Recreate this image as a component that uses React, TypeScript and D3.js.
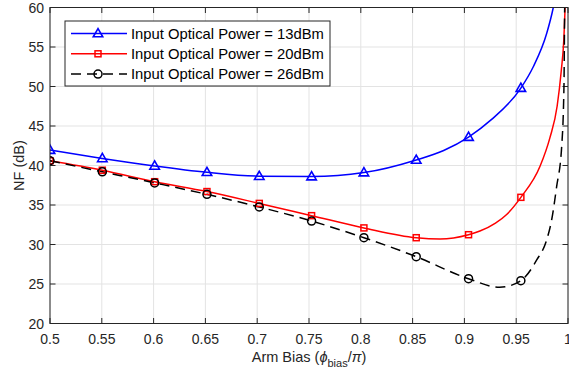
import React from "react";
import * as d3 from "d3";

// ---- data ----
const xTicks = [0.5, 0.55, 0.6, 0.65, 0.7, 0.75, 0.8, 0.85, 0.9, 0.95, 1];
const xTickLabels = ["0.5", "0.55", "0.6", "0.65", "0.7", "0.75", "0.8", "0.85", "0.9", "0.95", "1"];
const yTicks = [20, 25, 30, 35, 40, 45, 50, 55, 60];

const markerX = [0.5, 0.5505, 0.601, 0.6515, 0.702, 0.7525, 0.803, 0.8535, 0.904, 0.9545];
const blueMarkers = [41.95, 40.9, 39.95, 39.15, 38.65, 38.6, 39.1, 40.7, 43.6, 49.8];
const redMarkers = [40.6, 39.4, 37.95, 36.7, 35.2, 33.65, 32.1, 30.86, 31.24, 35.97];
const blackMarkers = [40.6, 39.2, 37.8, 36.35, 34.75, 32.97, 30.86, 28.46, 25.67, 25.42];

const blueCurveX = [0.5, 0.5505, 0.601, 0.6515, 0.702, 0.7525, 0.803, 0.8535, 0.88, 0.904, 0.926, 0.9545, 0.9665, 0.9794, 0.9858, 0.99];
const blueCurveY = [41.95, 40.9, 39.95, 39.15, 38.65, 38.6, 39.1, 40.7, 41.9, 43.6, 45.8, 49.8, 52.5, 56.7, 60, 63];

const redCurveX = [0.5, 0.5505, 0.601, 0.6515, 0.702, 0.7525, 0.803, 0.8535, 0.8765, 0.904, 0.915, 0.93, 0.9408, 0.9545, 0.973, 0.9825, 0.9895, 0.9935, 0.996, 0.9972, 0.998];
const redCurveY = [40.6, 39.4, 37.95, 36.7, 35.2, 33.65, 32.1, 30.86, 30.7, 31.24, 31.7, 32.7, 33.8, 35.97, 39.9, 43.5, 47.5, 52, 56, 60, 63];

const blackCurveX = [0.5, 0.5505, 0.601, 0.6515, 0.702, 0.7525, 0.803, 0.8535, 0.904, 0.934, 0.9545, 0.9698, 0.9794, 0.9842, 0.989, 0.9939, 0.9961, 0.9968, 0.9975];
const blackCurveY = [40.6, 39.2, 37.8, 36.35, 34.75, 32.97, 30.86, 28.46, 25.67, 24.58, 25.42, 28.04, 30.57, 33.1, 37.3, 42.4, 50, 60, 63];

const legendLabels = [
  "Input Optical Power = 13dBm",
  "Input Optical Power = 20dBm",
  "Input Optical Power = 26dBm",
];

const W = 569;
const H = 377;
const L = 50, R = 568, T = 7.5, B = 323.5;
const FONT = "'Liberation Sans', Arial, Helvetica, sans-serif";
const AX = "#262626";

function Marker({ kind, x, y, color }: { kind: string; x: number; y: number; color: string }) {
  if (kind === "tri") {
    const s = 9.5;
    const h = s * 0.866;
    const pts = `${x},${y - h * 0.6} ${x - s / 2},${y + h * 0.4} ${x + s / 2},${y + h * 0.4}`;
    return <polygon points={pts} fill="none" stroke={color} strokeWidth={1.6} />;
  }
  if (kind === "sq") {
    return <rect x={x - 3} y={y - 3} width={6} height={6} fill="none" stroke={color} strokeWidth={1.5} />;
  }
  return <circle cx={x} cy={y} r={4} fill="none" stroke={color} strokeWidth={1.5} />;
}

export default function App() {
  const x = d3.scaleLinear().domain([0.5, 1]).range([L, R]);
  const y = d3.scaleLinear().domain([20, 60]).range([B, T]);
  const line = d3
    .line<[number, number]>()
    .x((d) => x(d[0]))
    .y((d) => y(d[1]))
    .curve(d3.curveMonotoneX);

  const series = [
    { cx: blueCurveX, cy: blueCurveY, m: blueMarkers, color: "#0000ff", kind: "tri", dash: undefined },
    { cx: redCurveX, cy: redCurveY, m: redMarkers, color: "#ff0000", kind: "sq", dash: undefined },
    { cx: blackCurveX, cy: blackCurveY, m: blackMarkers, color: "#000000", kind: "circ", dash: "10,6" },
  ];

  const tick = 5.5;

  return (
    <svg
      width={W}
      height={H}
      style={{ position: "absolute", left: 0, top: 0, background: "#fff" }}
      fontFamily={FONT}
    >
      <defs>
        <clipPath id="plotclip">
          <rect x={L} y={T} width={R - L} height={B - T} />
        </clipPath>
      </defs>
      <rect x={0} y={0} width={W} height={H} fill="#fff" />
      {/* grid */}
      {xTicks.map((t) => (
        <line key={"gx" + t} x1={x(t)} x2={x(t)} y1={T} y2={B} stroke="#e3e3e3" strokeWidth={1} />
      ))}
      {yTicks.map((t) => (
        <line key={"gy" + t} x1={L} x2={R} y1={y(t)} y2={y(t)} stroke="#e3e3e3" strokeWidth={1} />
      ))}
      {/* ticks */}
      {xTicks.map((t) => (
        <g key={"tx" + t}>
          <line x1={x(t)} x2={x(t)} y1={B} y2={B - tick} stroke={AX} strokeWidth={1} />
          <line x1={x(t)} x2={x(t)} y1={T} y2={T + tick} stroke={AX} strokeWidth={1} />
        </g>
      ))}
      {yTicks.map((t) => (
        <g key={"ty" + t}>
          <line x1={L} x2={L + tick} y1={y(t)} y2={y(t)} stroke={AX} strokeWidth={1} />
          <line x1={R} x2={R - tick} y1={y(t)} y2={y(t)} stroke={AX} strokeWidth={1} />
        </g>
      ))}
      {/* curves */}
      <g clipPath="url(#plotclip)">
        {series.map((s, i) => (
          <path
            key={"c" + i}
            d={line(s.cx.map((v, j) => [v, s.cy[j]] as [number, number])) || ""}
            fill="none"
            stroke={s.color}
            strokeWidth={1.5}
            strokeDasharray={s.dash}
          />
        ))}
        {series.map((s, i) =>
          s.m.map((v, j) => (
            <Marker key={"m" + i + "-" + j} kind={s.kind} x={x(markerX[j])} y={y(v)} color={s.color} />
          ))
        )}
      </g>
      {/* box */}
      <rect x={L} y={T} width={R - L} height={B - T} fill="none" stroke={AX} strokeWidth={1} />
      {/* tick labels */}
      {xTicks.map((t, i) => (
        <text key={"lx" + t} x={x(t)} y={344} textAnchor="middle" fontSize={14} fill={AX}>
          {xTickLabels[i]}
        </text>
      ))}
      {yTicks.map((t) => (
        <text key={"ly" + t} x={44} y={y(t) + 5} textAnchor="end" fontSize={14} fill={AX}>
          {t}
        </text>
      ))}
      {/* axis labels */}
      <text x={(L + R) / 2} y={362} textAnchor="middle" fontSize={14.5} fill={AX}>
        Arm Bias (<tspan fontStyle="italic">ϕ</tspan>
        <tspan fontSize={11} dy={5}>bias</tspan>
        <tspan dy={-5}>/</tspan>
        <tspan fontStyle="italic">π</tspan>)
      </text>
      <text
        transform={`translate(24, ${(T + B) / 2}) rotate(-90)`}
        textAnchor="middle"
        fontSize={14.5}
        fill={AX}
      >
        NF (dB)
      </text>
      {/* legend */}
      <rect x={65} y={21} width={265} height={65} fill="#fff" stroke={AX} strokeWidth={1} />
      {series.map((s, i) => {
        const ly = 33.5 + i * 20.3;
        return (
          <g key={"lg" + i}>
            <line x1={71} x2={127} y1={ly} y2={ly} stroke={s.color} strokeWidth={1.5} strokeDasharray={s.dash} />
            <Marker kind={s.kind} x={98} y={ly} color={s.color} />
            <text x={131} y={ly + 5.2} fontSize={14.8} fill="#000">
              {legendLabels[i]}
            </text>
          </g>
        );
      })}
    </svg>
  );
}
